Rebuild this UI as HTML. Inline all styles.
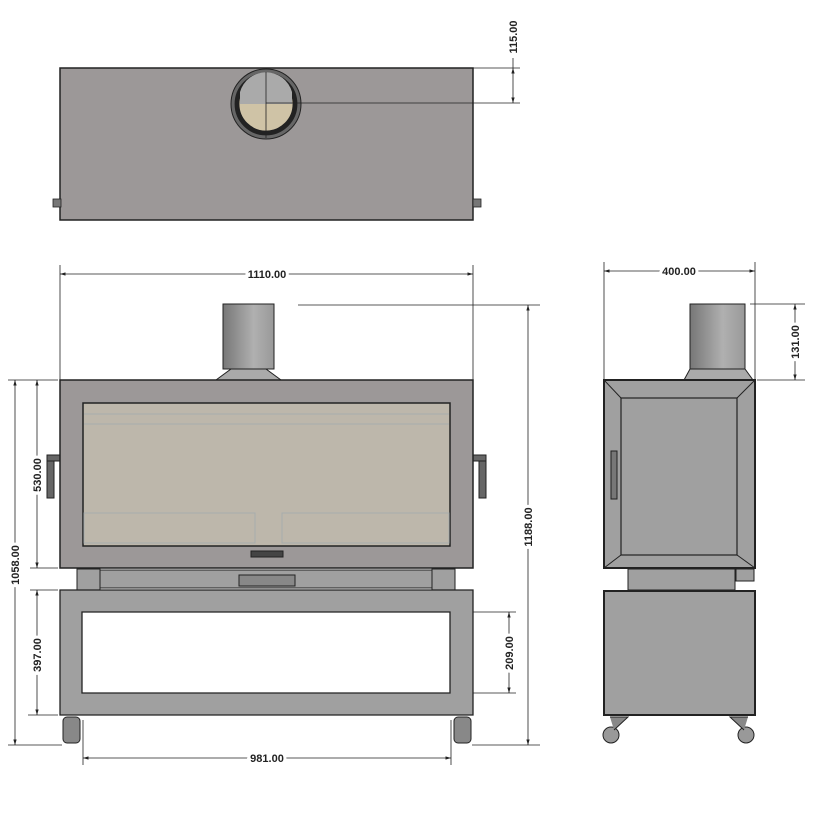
<!DOCTYPE html><html><head><meta charset="utf-8"><style>body{margin:0;background:#fff}svg{display:block}text{font-family:"Liberation Sans",sans-serif;font-weight:bold;font-size:11px;fill:#222}</style></head><body>
<svg width="813" height="813" viewBox="0 0 813 813" xmlns="http://www.w3.org/2000/svg">
<defs>
<linearGradient id="flue" x1="0" x2="1"><stop offset="0" stop-color="#777"/><stop offset="0.6" stop-color="#b0b0b0"/><stop offset="1" stop-color="#999"/></linearGradient>
<marker id="a" viewBox="0 0 10 10" refX="10" refY="5" markerWidth="7" markerHeight="7" orient="auto-start-reverse"><path d="M0,2 L10,5 L0,8z" fill="#222"/></marker>
</defs>
<g stroke="#222" stroke-width="0.8" fill="none">
<rect x="60" y="68" width="413" height="152" fill="#9c9898" stroke-width="1.5"/>
<rect x="53" y="199" width="8" height="8" fill="#777"/><rect x="473" y="199" width="8" height="8" fill="#777"/>
<circle cx="266" cy="104" r="35" fill="#666" stroke-width="1"/>
<circle cx="266" cy="104" r="31" fill="#222"/>
<circle cx="266" cy="104" r="27" fill="#cfc3a6"/>
<path d="M240,92 A27 27 0 0 1 292,92 L292,104 L240,104z" fill="#aaa" stroke="none"/>
<line x1="266" y1="72" x2="266" y2="138"/>
<line x1="266" y1="103" x2="520" y2="103"/>
<line x1="473" y1="68" x2="520" y2="68"/>
<line x1="513" y1="68" x2="513" y2="103" marker-start="url(#a)" marker-end="url(#a)"/>
<line x1="513" y1="58" x2="513" y2="68"/>
<line x1="60" y1="265" x2="60" y2="380"/><line x1="473" y1="265" x2="473" y2="380"/>
<line x1="60" y1="274" x2="473" y2="274" marker-start="url(#a)" marker-end="url(#a)"/>
<line x1="298" y1="305" x2="540" y2="305"/>
<line x1="528" y1="305" x2="528" y2="745" marker-start="url(#a)" marker-end="url(#a)"/>
<line x1="472" y1="745" x2="540" y2="745"/>
<line x1="8" y1="380" x2="58" y2="380"/>
<line x1="15" y1="380" x2="15" y2="745" marker-start="url(#a)" marker-end="url(#a)"/>
<line x1="8" y1="745" x2="62" y2="745"/>
<line x1="37" y1="380" x2="37" y2="568" marker-start="url(#a)" marker-end="url(#a)"/>
<line x1="30" y1="568" x2="58" y2="568"/>
<line x1="30" y1="590" x2="58" y2="590"/>
<line x1="37" y1="590" x2="37" y2="715" marker-start="url(#a)" marker-end="url(#a)"/>
<line x1="28" y1="715" x2="58" y2="715"/>
<line x1="455" y1="612" x2="516" y2="612"/><line x1="455" y1="693" x2="516" y2="693"/>
<line x1="509" y1="612" x2="509" y2="693" marker-start="url(#a)" marker-end="url(#a)"/>
<line x1="83" y1="720" x2="83" y2="765"/><line x1="451" y1="720" x2="451" y2="765"/>
<line x1="83" y1="758" x2="451" y2="758" marker-start="url(#a)" marker-end="url(#a)"/>
</g>
<g stroke="#222" stroke-width="1">
<rect x="223" y="304" width="51" height="65" fill="url(#flue)"/>
<path d="M231,369 L266,369 L281,380 L216,380z" fill="#aaa"/>
<rect x="47" y="455" width="7" height="43" fill="#666"/><rect x="47" y="455" width="13" height="6" fill="#666"/>
<rect x="479" y="455" width="7" height="43" fill="#666"/><rect x="473" y="455" width="13" height="6" fill="#666"/>
<rect x="60" y="380" width="413" height="188" fill="#9c9898" stroke-width="1.5"/>
<rect x="83" y="403" width="367" height="143" fill="#bdb7ab" stroke-width="1.5"/>
<g stroke="#a6acad" fill="none"><line x1="84" y1="414" x2="449" y2="414"/><line x1="84" y1="424" x2="449" y2="424"/><rect x="84" y="513" width="171" height="30"/><rect x="282" y="513" width="167" height="30"/></g>
<rect x="251" y="551" width="32" height="6" fill="#444"/>
<rect x="77" y="569" width="23" height="21" fill="#a0a0a0"/><rect x="432" y="569" width="23" height="21" fill="#a0a0a0"/>
<rect x="100" y="570" width="332" height="18" fill="#a0a0a0"/>
<rect x="239" y="575" width="56" height="11" fill="#888"/>
<path d="M60,590 H473 V715 H60z M82,612 V693 H450 V612z" fill="#a0a0a0" fill-rule="evenodd" stroke-width="1.3"/>
<line x1="82" y1="693" x2="450" y2="693"/>
<rect x="63" y="717" width="17" height="26" rx="4" fill="#888"/><rect x="454" y="717" width="17" height="26" rx="4" fill="#888"/>
<rect x="690" y="304" width="55" height="65" fill="url(#flue)"/>
<path d="M690,369 L745,369 L753,380 L684,380z" fill="#aaa"/>
<rect x="604" y="380" width="151" height="188" fill="#a0a0a0" stroke-width="2"/>
<rect x="621" y="398" width="116" height="157" fill="#a0a0a0" stroke-width="1.2"/>
<g fill="none"><line x1="604" y1="380" x2="621" y2="398"/><line x1="755" y1="380" x2="737" y2="398"/><line x1="604" y1="568" x2="621" y2="555"/><line x1="755" y1="568" x2="737" y2="555"/></g>
<rect x="611" y="451" width="6" height="48" fill="#777"/>
<rect x="628" y="569" width="107" height="21" fill="#a0a0a0"/>
<rect x="736" y="569" width="18" height="12" fill="#a0a0a0"/>
<rect x="604" y="591" width="151" height="124" fill="#a0a0a0" stroke-width="2"/>
<circle cx="611" cy="735" r="8" fill="#999"/><circle cx="746" cy="735" r="8" fill="#999"/>
<path d="M610,717 L628,717 L614,730" fill="#888"/><path d="M748,717 L730,717 L744,730" fill="#888"/>
</g>
<g stroke="#222" stroke-width="0.8" fill="none">
<line x1="604" y1="262" x2="604" y2="380"/><line x1="755" y1="262" x2="755" y2="380"/>
<line x1="604" y1="271" x2="755" y2="271" marker-start="url(#a)" marker-end="url(#a)"/>
<line x1="750" y1="304" x2="805" y2="304"/><line x1="757" y1="380" x2="805" y2="380"/>
<line x1="795" y1="304" x2="795" y2="380" marker-start="url(#a)" marker-end="url(#a)"/>
</g>
<g>
<text x="267" y="278" text-anchor="middle" stroke="#fff" stroke-width="6" paint-order="stroke">1110.00</text>
<text x="679" y="275" text-anchor="middle" stroke="#fff" stroke-width="6" paint-order="stroke">400.00</text>
<text x="267" y="762" text-anchor="middle" stroke="#fff" stroke-width="6" paint-order="stroke">981.00</text>
<text transform="translate(517,37) rotate(-90)" text-anchor="middle">115.00</text>
<text transform="translate(799,342) rotate(-90)" text-anchor="middle" stroke="#fff" stroke-width="6" paint-order="stroke">131.00</text>
<text transform="translate(532,527) rotate(-90)" text-anchor="middle" stroke="#fff" stroke-width="6" paint-order="stroke">1188.00</text>
<text transform="translate(513,653) rotate(-90)" text-anchor="middle" stroke="#fff" stroke-width="6" paint-order="stroke">209.00</text>
<text transform="translate(19,565) rotate(-90)" text-anchor="middle" stroke="#fff" stroke-width="6" paint-order="stroke">1058.00</text>
<text transform="translate(41,475) rotate(-90)" text-anchor="middle" stroke="#fff" stroke-width="6" paint-order="stroke">530.00</text>
<text transform="translate(41,655) rotate(-90)" text-anchor="middle" stroke="#fff" stroke-width="6" paint-order="stroke">397.00</text>
</g>
</svg></body></html>
